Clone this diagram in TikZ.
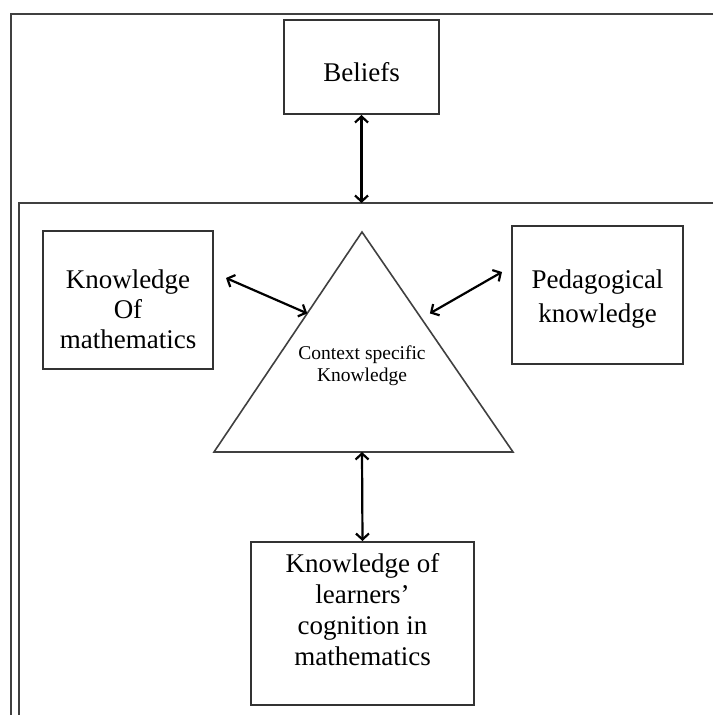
\documentclass[tikz,border=0pt]{standalone}
\usepackage{fontspec}
\setmainfont{Liberation Serif}
\usetikzlibrary{arrows.meta,calc}

\begin{document}
\begin{tikzpicture}[x=1pt,y=-1pt,
    box/.style={draw=black!80, line width=2pt, align=center, inner sep=0pt,
        font=\fontsize{27}{30}\selectfont},
    dbl/.style={{Straight Barb[length=6pt,width=13pt]}-{Straight Barb[length=6pt,width=13pt]},
        line width=2.2pt},
    frame/.style={draw=black!75, line width=2pt}]
    \useasboundingbox (0,0) rectangle (713,715);
    % open frames, cut by the page edge
    \draw[frame] (713,14) -- (11,14) -- (11,715);
    \draw[frame] (713,203) -- (19,203) -- (19,715);
    \coordinate (ctop) at (361.5,203);

    \node[box, minimum width=155, minimum height=94] (beliefs) at (361.5,67) {\rule{0pt}{29pt}Beliefs};
    \node[box, minimum width=170, minimum height=138] (kom) at (128,300) {\rule{0pt}{37pt}Knowledge\\Of\\mathematics};
    \node[box, minimum width=171, minimum height=138,
        font=\fontsize{27}{34}\selectfont] (ped) at (597.5,295) {\rule{0pt}{27pt}Pedagogical\\knowledge};
    \node[box, minimum width=223, minimum height=163,
        font=\fontsize{27}{31}\selectfont] (klc) at (362.5,623.5)
        {Knowledge of\\learners’\\cognition in\\mathematics\\[-2pt]\rule{0pt}{20pt}};

    % triangle
    \coordinate (apex) at (362,232);
    \coordinate (bl) at (214,452);
    \coordinate (br) at (513,452);
    \coordinate (bmid) at (362,452);
    \draw[draw=black!75, line width=1.6pt] (apex) -- (bl) -- (br) -- cycle;
    \node[align=center, inner sep=0pt, font=\fontsize{19.5}{22}\selectfont] (csk) at (362,366)
        {Context specific\\Knowledge};

    \draw[dbl] (beliefs.south) -- (ctop);
    \draw[dbl] ([shift={(12,-22)}]kom.east) -- ($(apex)!0.37!(bl)$);
    \draw[dbl] ([shift={(-9,-23)}]ped.west) -- ($(apex)!0.37!(br)+(12,0)$);
    \draw[dbl] (bmid) -- (klc.north);
\end{tikzpicture}
\end{document}
